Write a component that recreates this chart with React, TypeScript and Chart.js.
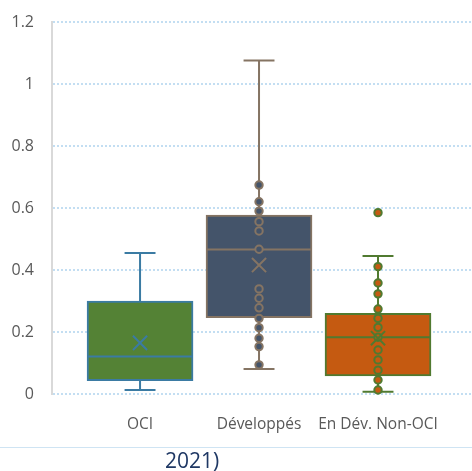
import React, { useEffect, useRef } from "react";
import { Chart, registerables } from "chart.js";

Chart.register(...registerables);

const categories = ["OCI", "Développés", "En Dév. Non-OCI"];
const mins = [0.013, 0.081, 0.007];
const q1s = [0.043, 0.246, 0.058];
const medians = [0.121, 0.466, 0.183];
const q3s = [0.3, 0.577, 0.26];
const maxs = [0.455, 1.076, 0.445];
const means = [0.165, 0.416, 0.18];
const pointsOCI: number[] = [];
const pointsDev = [0.674, 0.62, 0.59, 0.556, 0.526, 0.467, 0.339, 0.309, 0.278, 0.244, 0.214, 0.18, 0.153, 0.094];
const pointsEnDev = [0.585, 0.411, 0.358, 0.323, 0.274, 0.244, 0.215, 0.183, 0.142, 0.11, 0.077, 0.045, 0.013];
const yTicks = [0, 0.2, 0.4, 0.6, 0.8, 1, 1.2];

const fills = ["#548235", "#44546A", "#C55A11"];
const borders = ["#3B7BA3", "#857463", "#507A30"];

const CAP = 0.13;
const HALF = 0.445;

export default function App() {
  const ref = useRef<HTMLCanvasElement>(null);
  useEffect(() => {
    if (!ref.current) return;
    const allPoints = [pointsOCI, pointsDev, pointsEnDev];
    const whiskerSets = categories.map((_, i) => ({
      type: "scatter" as const,
      data: [
        { x: i, y: maxs[i] }, { x: i, y: q3s[i] }, { x: i, y: null },
        { x: i, y: q1s[i] }, { x: i, y: mins[i] }, { x: i, y: null },
        { x: i - CAP, y: maxs[i] }, { x: i + CAP, y: maxs[i] }, { x: i, y: null },
        { x: i - CAP, y: mins[i] }, { x: i + CAP, y: mins[i] }, { x: i, y: null },
        { x: i - HALF, y: medians[i] }, { x: i + HALF, y: medians[i] },
      ],
      showLine: true,
      spanGaps: false,
      borderColor: borders[i],
      borderWidth: 2,
      pointRadius: 0,
      clip: false,
      order: 2,
    }));
    const pointSets = categories.map((_, i) => ({
      type: "scatter" as const,
      data: allPoints[i].map((v) => ({ x: i, y: v })),
      backgroundColor: fills[i],
      borderColor: borders[i],
      borderWidth: 2,
      pointRadius: 3.7,
      clip: false,
      order: 1,
    }));
    const meanSets = categories.map((_, i) => ({
      type: "scatter" as const,
      data: [{ x: i, y: means[i] }],
      pointStyle: "crossRot",
      pointRadius: 10,
      borderColor: borders[i],
      borderWidth: 2,
      clip: false,
      order: 0,
    }));
    const chart = new Chart(ref.current, {
      type: "bar",
      data: {
        datasets: [
          {
            type: "bar",
            data: categories.map((_, i) => ({ x: i, y: [q1s[i], q3s[i]] })) as any,
            backgroundColor: fills,
            borderColor: borders,
            borderWidth: 2,
            borderSkipped: false,
            barThickness: 106,
            order: 3,
          } as any,
          ...whiskerSets,
          ...pointSets,
          ...meanSets,
        ] as any,
      },
      options: {
        animation: false,
        responsive: false,
        maintainAspectRatio: false,
        layout: { autoPadding: false, padding: { top: 22, left: 0, right: 0, bottom: 0 } },
        plugins: { legend: { display: false }, tooltip: { enabled: false } },
        scales: {
          x: {
            type: "linear",
            min: -0.74,
            max: 2.79,
            offset: false,
            grid: { display: false },
            border: { display: false },
            afterBuildTicks: (scale: any) => {
              scale.ticks = categories.map((_, i) => ({ value: i }));
            },
            afterFit: (scale: any) => {
              scale.height = 52;
              scale.paddingLeft = 0;
              scale.paddingRight = 0;
            },
            ticks: {
              padding: 13,
              autoSkip: false,
              maxRotation: 0,
              color: "#595959",
              font: { family: "'Open Sans'", size: 15.5 },
              callback: (v: any) => categories[Math.round(Number(v))] ?? "",
            },
          },
          y: {
            type: "linear",
            min: 0,
            max: 1.2,
            afterBuildTicks: (scale: any) => {
              scale.ticks = yTicks.map((v) => ({ value: v }));
            },
            afterFit: (scale: any) => {
              scale.width = 52;
              scale.paddingTop = 0;
              scale.paddingBottom = 0;
            },
            grid: { color: "#C3DEF2", lineWidth: 2, drawTicks: false },
            border: { display: true, color: "#D9D9D9", width: 2, dash: [2, 2] },
            ticks: {
              padding: 18,
              color: "#595959",
              font: { family: "'Open Sans'", size: 16 },
              callback: (v: any) => String(Math.round(Number(v) * 10) / 10),
            },
          },
        },
      } as any,
    });
    return () => chart.destroy();
  }, []);
  return (
    <div style={{ position: "fixed", left: 0, top: 0, width: 472, height: 471, background: "#fff", overflow: "hidden" }}>
      <canvas ref={ref} width={472} height={446} style={{ display: "block", width: 472, height: 446 }} />
      <div style={{ position: "absolute", left: 0, top: 447, width: 472, borderTop: "1.5px solid #CFE4F3" }} />
      <div
        style={{
          position: "absolute",
          left: 165,
          top: 445,
          fontFamily: "'Open Sans'",
          fontSize: 21,
          color: "#1F3864",
          lineHeight: "30px",
        }}
      >
        2021)
      </div>
    </div>
  );
}
